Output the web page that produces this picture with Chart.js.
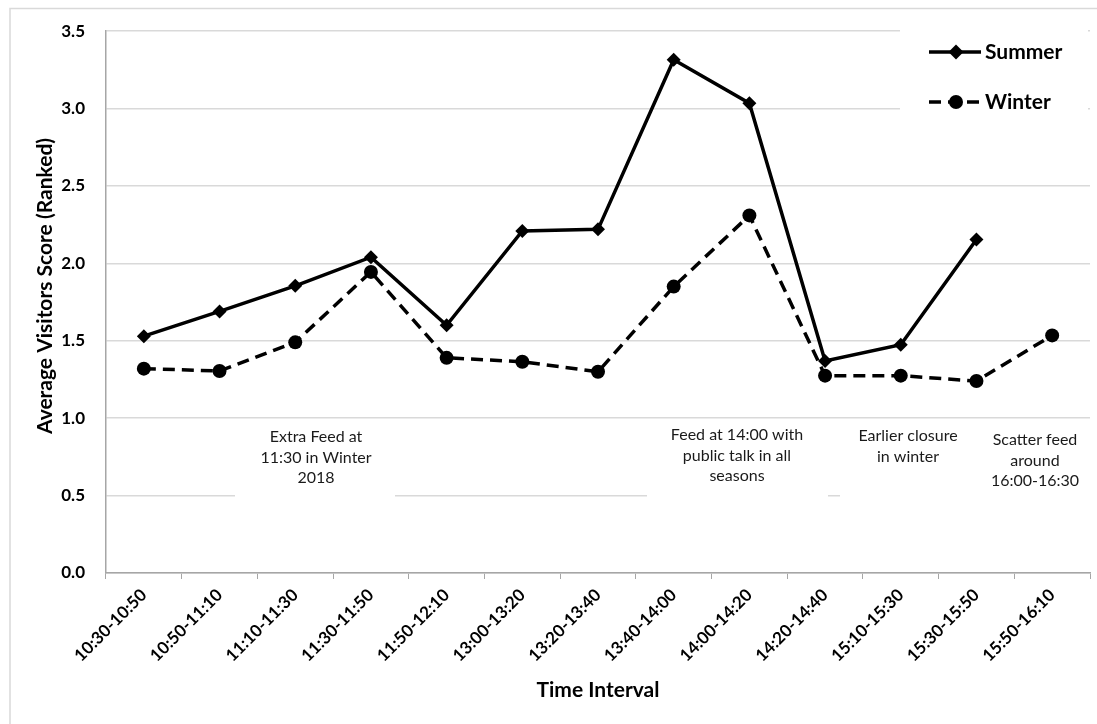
<!DOCTYPE html>
<html><head><meta charset="utf-8">
<script src="https://cdn.jsdelivr.net/npm/chart.js@4.4.0/dist/chart.umd.min.js"></script>
<style>html,body{margin:0;padding:0;background:#fff;}#wrap{width:1097px;height:724px;position:relative;}</style>
</head><body><div id="wrap"><canvas id="c" width="1097" height="724"></canvas></div>
<script>
const categories = ['10:30-10:50','10:50-11:10','11:10-11:30','11:30-11:50','11:50-12:10','13:00-13:20','13:20-13:40','13:40-14:00','14:00-14:20','14:20-14:40','15:10-15:30','15:30-15:50','15:50-16:10'];
const summerValues = [1.53, 1.69, 1.855, 2.04, 1.60, 2.21, 2.22, 3.315, 3.035, 1.37, 1.475, 2.155, null];
const winterValues = [1.32, 1.305, 1.49, 1.945, 1.39, 1.365, 1.30, 1.85, 2.31, 1.275, 1.275, 1.24, 1.535];
const yTickLabels = ['0.0','0.5','1.0','1.5','2.0','2.5','3.0','3.5'];
const seriesNames = ['Summer','Winter'];
const yTitle = 'Average Visitors Score (Ranked)';
const xTitle = 'Time Interval';
const noteExtraFeed = ['Extra Feed at','11:30 in Winter','2018'];
const noteFeed14 = ['Feed at 14:00 with','public talk in all','seasons'];
const noteClosure = ['Earlier closure','in winter'];
const noteScatter = ['Scatter feed','around','16:00-16:30'];

const FONT = 'Lato, "Open Sans", sans-serif';

const notes = [
  {lines: noteExtraFeed, cx: 316, y0: 437, box: [235, 420, 160, 82]},
  {lines: noteFeed14, cx: 737, y0: 435, box: [647, 420, 181, 82]},
  {lines: noteClosure, cx: 908, y0: 436, box: [840, 420, 125, 82]},
  {lines: noteScatter, cx: 1035, y0: 440, box: [965, 420, 125, 86]}
];

const decorPlugin = {
  id: 'decor',
  beforeDatasetsDraw(chart) {
    const ctx = chart.ctx;
    ctx.save();
    ctx.fillStyle = '#ffffff';
    notes.forEach(n => ctx.fillRect(n.box[0], n.box[1], n.box[2], n.box[3]));
    ctx.fillRect(900, 30, 188, 95);
    ctx.restore();
  },
  afterDraw(chart) {
    const ctx = chart.ctx;
    ctx.save();
    ctx.strokeStyle = '#d9d9d9';
    ctx.lineWidth = 1.5;
    ctx.beginPath();
    ctx.moveTo(10, 724); ctx.lineTo(10, 8.5); ctx.lineTo(1097, 8.5);
    ctx.stroke();
    ctx.fillStyle = '#1a1a1a';
    ctx.font = '16px ' + FONT;
    ctx.textAlign = 'center';
    ctx.textBaseline = 'middle';
    notes.forEach(n => n.lines.forEach((t, i) => ctx.fillText(t, n.cx, n.y0 + i * 20.5)));
    ctx.save();
    ctx.translate(45, 286);
    ctx.rotate(-Math.PI / 2);
    ctx.font = 'bold 21px ' + FONT;
    ctx.fillStyle = '#000';
    ctx.fillText(yTitle, 0, 0);
    ctx.restore();
    const ds = chart.data.datasets;
    const rows = [52, 102];
    ds.forEach((d, i) => {
      const y = rows[i];
      ctx.strokeStyle = '#000';
      ctx.lineWidth = d.borderWidth;
      ctx.setLineDash(d.borderDash || []);
      ctx.beginPath();
      ctx.moveTo(929, y); ctx.lineTo(981, y);
      ctx.stroke();
      ctx.setLineDash([]);
      ctx.fillStyle = '#000';
      ctx.beginPath();
      if (d.pointStyle === 'rectRot') {
        const r = d.pointRadius + 0.5;
        ctx.moveTo(956, y - r); ctx.lineTo(956 + r, y); ctx.lineTo(956, y + r); ctx.lineTo(956 - r, y);
        ctx.closePath();
      } else {
        ctx.arc(956, y, d.pointRadius, 0, Math.PI * 2);
      }
      ctx.fill();
      ctx.font = 'bold 21px ' + FONT;
      ctx.textAlign = 'left';
      ctx.textBaseline = 'middle';
      ctx.fillText(d.label, 985, y);
    });
    ctx.restore();
  }
};

new Chart(document.getElementById('c'), {
  type: 'line',
  data: {
    labels: categories,
    datasets: [
      {label: seriesNames[0], data: summerValues, borderColor: '#000', backgroundColor: '#000', borderWidth: 3.5,
       pointStyle: 'rectRot', pointRadius: 7, pointHoverRadius: 7, pointBorderWidth: 0, spanGaps: false, tension: 0},
      {label: seriesNames[1], data: winterValues, borderColor: '#000', backgroundColor: '#000', borderWidth: 3.5,
       borderDash: [12, 7], pointStyle: 'circle', pointRadius: 7, pointHoverRadius: 7, pointBorderWidth: 0, tension: 0}
    ]
  },
  options: {
    responsive: false,
    animation: false,
    events: [],
    layout: {padding: {top: 24, right: 7, left: 0, bottom: 0}},
    plugins: {legend: {display: false}, tooltip: {enabled: false}},
    scales: {
      x: {
        offset: true,
        grid: {offset: true, drawOnChartArea: false, drawTicks: true, tickLength: 6, color: '#a6a6a6', lineWidth: 1},
        border: {display: true, color: '#a6a6a6', width: 1.5},
        ticks: {maxRotation: 45, minRotation: 45, autoSkip: false, color: '#000', padding: 6,
                font: {family: FONT, size: 17, weight: 'bold'}},
        title: {display: true, text: xTitle, color: '#000', font: {family: FONT, size: 21, weight: 'bold'},
                padding: {top: 0, bottom: 21}},
        afterFit(s) { s.height = 151; }
      },
      y: {
        min: 0, max: 3.5,
        grid: {color: '#d9d9d9', lineWidth: 1.5, drawTicks: false},
        border: {display: true, color: '#a6a6a6', width: 1.5},
        ticks: {stepSize: 0.5, padding: 21, color: '#000', font: {family: FONT, size: 17, weight: 'bold'},
                callback: (v, i) => yTickLabels[i]},
        afterFit(s) { s.width = 106; }
      }
    }
  },
  plugins: [decorPlugin]
});
</script>
</body></html>
